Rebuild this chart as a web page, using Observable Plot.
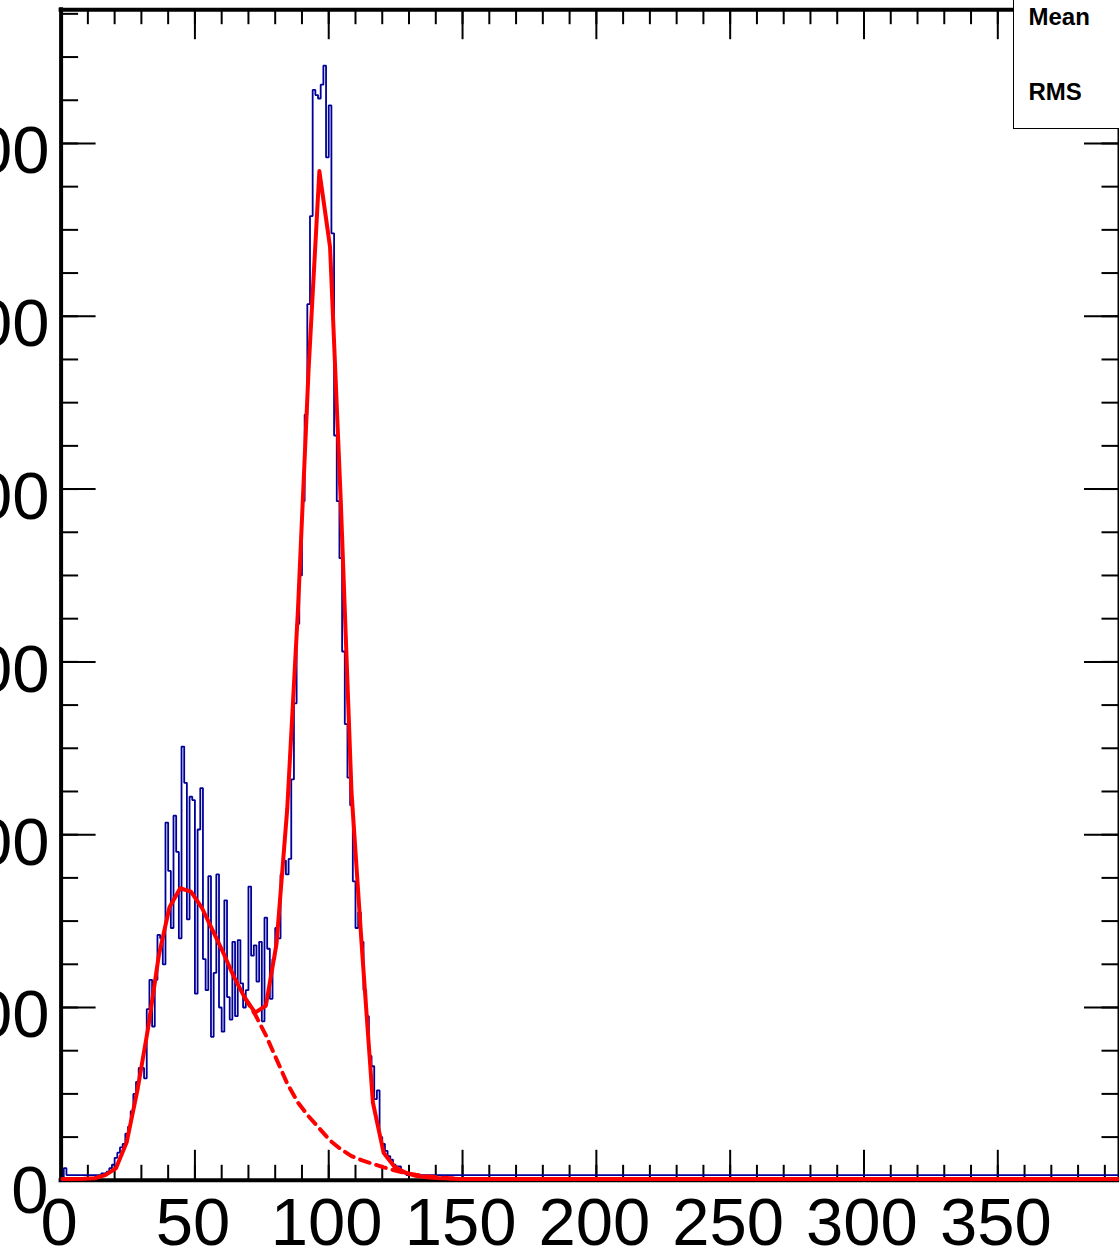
<!DOCTYPE html>
<html>
<head>
<meta charset="utf-8">
<script src="https://cdn.jsdelivr.net/npm/d3@7"></script>
<script src="https://cdn.jsdelivr.net/npm/@observablehq/plot@0.6"></script>
<style>
html, body { margin: 0; padding: 0; background: #fff; overflow: hidden; }
#wrap { position: relative; width: 1119px; height: 1255px; overflow: hidden; }
#wrap svg { display: block; }
#stats { position: absolute; left: 1013px; top: -10px; width: 140px; height: 137px;
  border: 1.5px solid #000; background: #fff;
  font-family: "Liberation Sans", Arial, Helvetica, sans-serif; font-weight: bold; font-size: 24px; line-height: 24px; }
#stats span { position: absolute; left: 14.5px; white-space: nowrap; }
</style>
</head>
<body>
<div id="wrap"></div>
<script>
// ---- data ----
const xMajorTicks = [0, 50, 100, 150, 200, 250, 300, 350];
const yMajorTicks = [0, 100, 200, 300, 400, 500, 600];
const xMax = 395.1;
const yMax = 677.4;
const nBins = 395;           // bins of width 1 from 0 to 395
// counts of bins 0..128 (bin k covers [k, k+1))
const binCounts = [
  0, 7, 3, 3, 3, 3, 3, 3, 3, 3, 3, 3, 3, 3, 3, 4, 4, 5, 7, 9,
  13, 16, 19, 21, 27, 31, 40, 50, 57, 65, 65, 59, 99, 116, 89, 116, 142, 140, 125, 207,
  179, 146, 211, 190, 140, 251, 230, 151, 222, 220, 108, 203, 227, 128, 110, 176, 83, 120, 177, 100,
  86, 162, 106, 93, 138, 95, 139, 114, 100, 110, 170, 130, 136, 115, 138, 92, 152, 134, 105, 128,
  146, 140, 177, 185, 177, 186, 232, 276, 322, 350, 393, 443, 507, 558, 631, 628, 626, 634, 645, 592,
  622, 548, 431, 393, 360, 306, 264, 233, 217, 173, 146, 155, 138, 110, 95, 72, 66, 47, 52, 25,
  21, 17, 14, 12, 9, 8, 8, 5, 4
];
const tailCount = 3;         // flat level of the remaining bins
// total fit (solid red)
const fitX = [0.5, 4.5, 8.5, 12.5, 16.5, 20.5, 24.5, 28.5, 32.5, 36.5, 40.5, 44.5, 48.5, 52.5, 56.5, 60.5,
  64.5, 68.5, 72.5, 76.5, 80.5, 84.5, 88.5, 92.5, 96.5, 100.5, 104.5, 108.5, 112.5, 116.5, 120.5, 124.5,
  128.5, 132.5, 136.5, 140.5, 144.5, 148.5, 395];
const fitY = [0.8, 0.8, 0.9, 1.2, 3, 7, 22, 52, 88, 130, 158, 169, 167, 158, 145, 132,
  118, 106, 97, 101, 137, 215, 330, 470, 584, 540, 393, 225, 132, 45, 16, 8,
  4.5, 2.6, 1.8, 1.3, 1.0, 0.8, 0.8];
// background component (dashed red)
const bgX = [68.5, 72.5, 76.5, 80.5, 84.5, 88.5, 92.5, 96.5, 100.5, 104.5, 108.5, 112.5, 116.5, 120.5,
  124.5, 128.5, 132.5, 136.5, 140.5, 144.5, 148.5];
const bgY = [106, 96, 84, 70, 56, 45, 37, 30, 23, 18, 14, 11.5, 9.5, 7.5, 5.8, 4.2, 3.2, 2.4, 1.8, 1.3, 1.0];
const statLabels = ["Mean", "RMS"];

// ---- layout ----
const W = 1119, H = 1255;
const mL = 60.6, mR = 1, mT = 9.2, mB = 75.2;
const frameW = W - mL - mR, frameH = H - mT - mB;
const font = "'Liberation Sans', Arial, Helvetica, sans-serif";

const counts = binCounts.concat(Array(nBins - binCounts.length).fill(tailCount));
const histPts = [{x: 0, y: 0}, ...counts.map((c, i) => ({x: i, y: c})), {x: nBins, y: counts[nBins - 1]}];
const fitPts = fitX.map((x, i) => ({x, y: fitY[i]}));
const bgPts = bgX.map((x, i) => ({x, y: bgY[i]}));

const xMinor = d3.range(10, xMax, 10);
const yMinor = d3.range(25, yMax, 25);
const yMajorNZ = yMajorTicks.filter(d => d !== 0);

const tickStyle = {stroke: "black", strokeWidth: 2};

const chart = Plot.plot({
  width: W, height: H,
  marginLeft: mL, marginRight: mR, marginTop: mT, marginBottom: mB,
  x: {domain: [0, xMax], axis: null},
  y: {domain: [0, yMax], axis: null},
  style: {background: "white", overflow: "visible"},
  marks: [
    Plot.frame({stroke: "black", strokeWidth: 2}),
    Plot.ruleX([0], {stroke: "black", strokeWidth: 4, strokeLinecap: "square"}),
    Plot.ruleY([0, yMax], {stroke: "black", strokeWidth: 4, strokeLinecap: "square"}),
    // x ticks, bottom (pointing up) and top (pointing down)
    Plot.tickX(xMinor, {x: d => d, insetTop: frameH - 15, ...tickStyle}),
    Plot.tickX(xMajorTicks, {x: d => d, insetTop: frameH - 30, ...tickStyle}),
    Plot.tickX(xMinor, {x: d => d, insetBottom: frameH - 15, ...tickStyle}),
    Plot.tickX(xMajorTicks, {x: d => d, insetBottom: frameH - 30, ...tickStyle}),
    // y ticks, left and right
    Plot.tickY(yMinor, {y: d => d, insetRight: frameW - 17.5, ...tickStyle}),
    Plot.tickY(yMajorTicks, {y: d => d, insetRight: frameW - 35, ...tickStyle}),
    Plot.tickY(yMinor, {y: d => d, insetLeft: frameW - 16.5, ...tickStyle}),
    Plot.tickY(yMajorTicks, {y: d => d, insetLeft: frameW - 34, ...tickStyle}),
    // histogram
    Plot.line(histPts, {x: "x", y: "y", curve: "step-after", stroke: "#000099", strokeWidth: 1.8, strokeLinejoin: "miter"}),
    // background (dashed) and total fit
    Plot.line(bgPts, {x: "x", y: "y", stroke: "#ff0000", strokeWidth: 4, strokeDasharray: "10,7"}),
    Plot.line(fitPts, {x: "x", y: "y", stroke: "#ff0000", strokeWidth: 4}),
    // tick labels
    Plot.text(xMajorTicks, {x: d => d, text: d => String(d), frameAnchor: "bottom", lineAnchor: "bottom",
      dy: 65, dx: -2, fontSize: 67, fontFamily: font, fill: "black"}),
    Plot.text(yMajorNZ, {y: d => d, text: d => String(d), frameAnchor: "left", textAnchor: "end", lineAnchor: "bottom",
      dx: -11.6, dy: 30, fontSize: 67, fontFamily: font, fill: "black"}),
    Plot.text([0], {y: d => d, text: d => String(d), frameAnchor: "left", textAnchor: "end", lineAnchor: "bottom",
      dx: -12.6, dy: 33, fontSize: 67, fontFamily: font, fill: "black"})
  ]
});

const wrap = document.getElementById("wrap");
wrap.appendChild(chart);
const stats = document.createElement("div");
stats.id = "stats";
stats.innerHTML = `<span style="top:14.2px">${statLabels[0]}</span><span style="top:89.2px">${statLabels[1]}</span>`;
wrap.appendChild(stats);
</script>
</body>
</html>
